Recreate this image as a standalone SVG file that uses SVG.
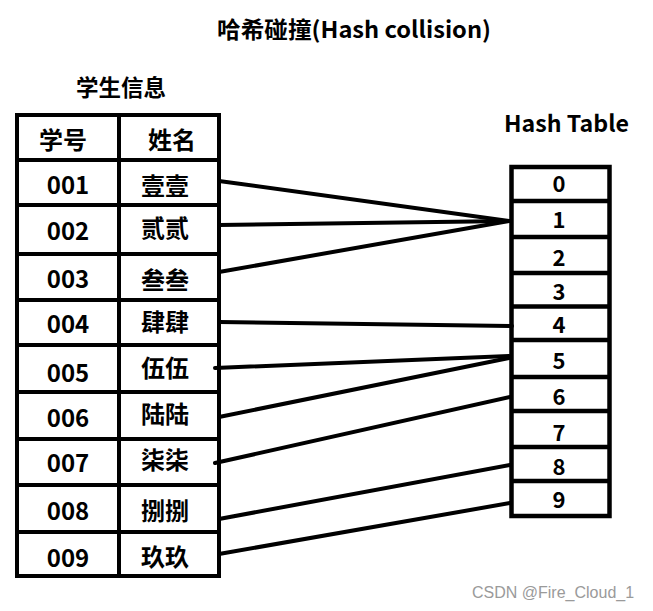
<svg xmlns="http://www.w3.org/2000/svg" width="653" height="611" viewBox="0 0 653 611">
<style>
.t{font-family:"Noto Sans CJK SC","Liberation Sans",sans-serif;font-weight:bold;fill:#000;text-anchor:middle}
.cell{font-size:24px}
.hn{font-size:22px}
.box{fill:none;stroke:#000;stroke-width:4}
.hbox{fill:none;stroke:#000;stroke-width:4.5}
.conn line{stroke:#000;stroke-width:4;stroke-linecap:round}
.wm{font-family:"Liberation Sans",Arial,sans-serif;font-size:16px;fill:#9a9a9a}
</style>
<rect width="653" height="611" fill="#fff"/>
<text class="t" x="354" y="38" font-size="23" textLength="274" lengthAdjust="spacingAndGlyphs">哈希碰撞(Hash collision)</text>
<text class="t" x="121" y="95.5" font-size="22.5">学生信息</text>
<text class="t" x="566.5" y="132" font-size="23" textLength="125" lengthAdjust="spacingAndGlyphs">Hash Table</text>

<g id="student-table">
<rect class="box" x="17" y="115" width="202" height="461"/>
<line class="box" x1="119" y1="115" x2="119" y2="576"/>
<line class="box" x1="17" y1="160" x2="219" y2="160"/>
<line class="box" x1="17" y1="205" x2="219" y2="205"/>
<line class="box" x1="17" y1="254" x2="219" y2="254"/>
<line class="box" x1="17" y1="300" x2="219" y2="300"/>
<line class="box" x1="17" y1="345" x2="219" y2="345"/>
<line class="box" x1="17" y1="392" x2="219" y2="392"/>
<line class="box" x1="17" y1="439" x2="219" y2="439"/>
<line class="box" x1="17" y1="485" x2="219" y2="485"/>
<line class="box" x1="17" y1="532" x2="219" y2="532"/>
<text class="t cell" x="63" y="148.5">学号</text>
<text class="t cell" x="172" y="148.5">姓名</text>
</g>
<g id="row-001"><text class="t cell" x="68" y="194">001</text><text class="t cell" x="165" y="195">壹壹</text></g>
<g id="row-002"><text class="t cell" x="68" y="240">002</text><text class="t cell" x="165" y="236.5">贰贰</text></g>
<g id="row-003"><text class="t cell" x="68" y="288">003</text><text class="t cell" x="165" y="289">叁叁</text></g>
<g id="row-004"><text class="t cell" x="68" y="333">004</text><text class="t cell" x="165" y="331">肆肆</text></g>
<g id="row-005"><text class="t cell" x="68" y="382">005</text><text class="t cell" x="165" y="377">伍伍</text></g>
<g id="row-006"><text class="t cell" x="68" y="427">006</text><text class="t cell" x="165" y="423">陆陆</text></g>
<g id="row-007"><text class="t cell" x="68" y="472">007</text><text class="t cell" x="165" y="469">柒柒</text></g>
<g id="row-008"><text class="t cell" x="68" y="520">008</text><text class="t cell" x="165" y="520">捌捌</text></g>
<g id="row-009"><text class="t cell" x="68" y="567">009</text><text class="t cell" x="165" y="566">玖玖</text></g>

<g id="hash-table">
<rect class="hbox" x="511.5" y="167" width="98" height="349"/>
<line class="hbox" x1="511.5" y1="201" x2="609.5" y2="201"/>
<line class="hbox" x1="511.5" y1="237" x2="609.5" y2="237"/>
<line class="hbox" x1="511.5" y1="273" x2="609.5" y2="273"/>
<line class="hbox" x1="511.5" y1="306.5" x2="609.5" y2="306.5"/>
<line class="hbox" x1="511.5" y1="340" x2="609.5" y2="340"/>
<line class="hbox" x1="511.5" y1="377" x2="609.5" y2="377"/>
<line class="hbox" x1="511.5" y1="411" x2="609.5" y2="411"/>
<line class="hbox" x1="511.5" y1="447" x2="609.5" y2="447"/>
<line class="hbox" x1="511.5" y1="481" x2="609.5" y2="481"/>
</g>
<g id="slot-0"><text class="t hn" x="559" y="192">0</text></g>
<g id="slot-1"><text class="t hn" x="559" y="228">1</text></g>
<g id="slot-2"><text class="t hn" x="559" y="266">2</text></g>
<g id="slot-3"><text class="t hn" x="559" y="300">3</text></g>
<g id="slot-4"><text class="t hn" x="559" y="333">4</text></g>
<g id="slot-5"><text class="t hn" x="559" y="369">5</text></g>
<g id="slot-6"><text class="t hn" x="559" y="405">6</text></g>
<g id="slot-7"><text class="t hn" x="559" y="441">7</text></g>
<g id="slot-8"><text class="t hn" x="559" y="475">8</text></g>
<g id="slot-9"><text class="t hn" x="559" y="508">9</text></g>

<g id="connectors" class="conn">
<line x1="219" y1="181" x2="509" y2="221"/>
<line x1="219" y1="225" x2="509" y2="221"/>
<line x1="219" y1="272" x2="509" y2="221"/>
<line x1="219" y1="322" x2="512" y2="326"/>
<line x1="215" y1="368" x2="509" y2="356"/>
<line x1="219" y1="417" x2="509" y2="358"/>
<line x1="215" y1="463" x2="510" y2="397"/>
<line x1="219" y1="519" x2="510" y2="465"/>
<line x1="219" y1="554" x2="510" y2="503"/>
</g>

<text class="wm" x="472" y="598">CSDN @Fire_Cloud_1</text>
</svg>
